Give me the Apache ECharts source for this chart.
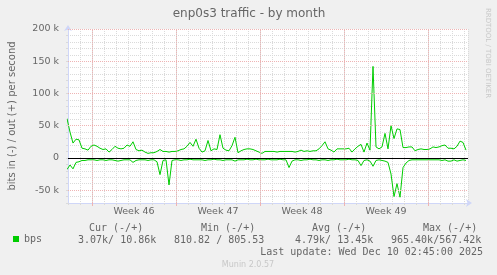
<!DOCTYPE html>
<html><head><meta charset="utf-8">
<script src="https://cdn.jsdelivr.net/npm/echarts@6/dist/echarts.min.js"></script>
<style>html,body{margin:0;padding:0;background:#f0f0f0}#c{width:497px;height:275px}</style>
</head><body><div id="c"></div>
<script>
// time of first sample (hours relative to start of Week 46) and spacing
const startHour = -50;
const stepHours = 6;
// out (+) traffic, kbit/s
const outK = [61,40,23,29,28,15,14,12,18,20,18,15,13,14,9,13,18,15,14,15,
  20,18,25,13,11,12,9,7,8,8,10,13,10,10,9,10,10,11,13,14,
  18,24,18,29,15,9,11,27,11,14,13,36,15,12,11,19,32,8,11,13,
  14,14,13,11,9,7,10,10,10,10,9,10,10,10,10,10,9,10,12,10,
  11,10,11,11,14,19,25,14,12,9,14,14,14,14,15,9,14,18,21,9,
  23,12,142,17,14,17,38,14,50,30,45,44,16,16,17,17,11,13,14,13,
  13,14,17,16,17,19,20,15,15,14,18,26,24,12];
// in (-) traffic, kbit/s
const inK = [-18,-11,-17,-7,-6,-4,-4,-3,-3,-3,-4,-3,-3,-4,-3,-3,-4,-5,-4,-3,
  -3,-3,-7,-4,-3,-3,-3,-4,-3,-3,-6,-26,-4,-3,-42,-4,-3,-3,-4,-3,
  -3,-2,-3,-3,-3,-3,-4,-3,-3,-2,-3,-3,-4,-3,-3,-3,-5,-3,-3,-3,
  -2,-3,-3,-2,-3,-3,-3,-2,-3,-3,-3,-2,-3,-3,-15,-5,-3,-3,-4,-3,
  -3,-2,-3,-3,-4,-3,-3,-4,-3,-3,-2,-3,-3,-3,-2,-3,-3,-4,-12,-4,
  -3,-5,-13,-4,-3,-4,-5,-7,-25,-60,-40,-61,-15,-8,-4,-3,-3,-3,-3,-3,
  -3,-3,-3,-3,-3,-4,-3,-5,-5,-3,-5,-4,-3,-4];
const weekStarts = [0,168,336,504,672];
const weekCenters = [84,252,420,588];
const weekLabels = ['Week 46','Week 47','Week 48','Week 49'];
const yTickValues = [-50000,0,50000,100000,150000,200000];
const yTickLabels = ['-50 k','0','50 k','100 k','150 k','200 k'];
const legendHeaders = ['Cur (-/+)','Min (-/+)','Avg (-/+)','Max (-/+)'];
const legendValues = ['3.07k/ 10.86k','810.82 / 805.53','4.79k/ 13.45k','965.40k/567.42k'];
const titleText = 'enp0s3 traffic - by month';
const yName = 'bits in (-) / out (+) per second';
const lastUpdate = 'Last update: Wed Dec 10 02:45:00 2025';
const footer = 'Munin 2.0.57';
const watermark = 'RRDTOOL / TOBI OETIKER';

const outData = outK.map((v,i)=>[startHour+i*stepHours, v*1000]);
const inData = inK.map((v,i)=>[startHour+i*stepHours, v*1000]);

const FONT = '"DejaVu Sans", sans-serif';
const MONO = '"DejaVu Sans Mono", monospace';
const TXT = '#666666';
const AXIS = '#CFD6F8';
const MGRID = '#eeb4b4';
const GRID = '#dadada';

const chart = echarts.init(document.getElementById('c'), null, {renderer:'canvas'});
const headerX = [89, 201, 312, 423];
const valueX = [78, 174, 295, 391];
const graphics = [];
function txt(t, x, y, font, fill, align, rot){
  graphics.push({type:'text', x:x, y:y, rotation: rot||0, silent:true,
    style:{text:t, font:font, fill:fill, textAlign:align||'left', textVerticalAlign:'middle', align:align||'left', verticalAlign:'middle'}});
}
txt(titleText, 249, 14, '12px '+FONT, TXT, 'center');
txt(yName, 12, 116, '10px '+FONT, TXT, 'center', Math.PI/2);
txt(watermark, 488, 53, '7px '+FONT, '#c8c8c8', 'center', -Math.PI/2);
legendHeaders.forEach((t,i)=>txt(t, headerX[i], 228, '10px '+MONO, TXT));
legendValues.forEach((t,i)=>txt(t, valueX[i], 240, '10px '+MONO, TXT));
txt(lastUpdate, 483, 252, '10px '+MONO, TXT, 'right');
txt(footer, 248, 265, '8px '+FONT, '#c8c8c8', 'center');

const dotted = (c)=>({color:c, type:[1,1], width:1});

chart.setOption({
  animation:false,
  backgroundColor:'#f0f0f0',
  grid:{left:68, top:29, width:400, height:174, show:true, backgroundColor:'#ffffff', borderWidth:0, containLabel:false},
  legend:{data:['bps'], left:13, top:234, padding:0, itemWidth:6, itemHeight:6, icon:'rect',
    textStyle:{fontFamily:MONO, fontSize:10, color:TXT}},
  xAxis:[{
    type:'value', min:-48, max:752, interval:24,
    axisLine:{onZero:false, lineStyle:{color:AXIS}, symbol:['none','arrow'], symbolSize:[6,6], symbolOffset:[0,4]},
    axisTick:{show:true, length:2, lineStyle:{color:GRID}},
    axisLabel:{show:false},
    splitLine:{show:true, lineStyle:dotted(GRID)}
  },{
    type:'value', min:-48, max:752, position:'bottom',
    axisLine:{show:false, onZero:false},
    axisTick:{show:true, customValues:weekStarts, length:3, lineStyle:{color:MGRID}},
    axisLabel:{show:true, customValues:weekCenters, margin:4, fontFamily:FONT, fontSize:9.5, color:TXT,
      formatter:(v)=>{const k=weekCenters.indexOf(v); return k>=0?weekLabels[k]:'';}},
    splitLine:{show:false}
  }],
  yAxis:[{
    type:'value', min:-70000, max:200000, interval:10000,
    axisLine:{show:true, onZero:false, lineStyle:{color:AXIS}, symbol:['none','arrow'], symbolSize:[6,6], symbolOffset:[0,4]},
    axisTick:{show:true, length:2, lineStyle:{color:GRID}},
    axisLabel:{margin:9, fontFamily:FONT, fontSize:9.5, color:TXT,
      formatter:(v)=>{const k=yTickValues.indexOf(v); return k>=0?yTickLabels[k]:'';}},
    splitLine:{show:true, lineStyle:dotted(GRID)}
  }],
  graphic:graphics,
  series:[{
    type:'line', name:'gridMajor', data:[], z:1, silent:true,
    markLine:{silent:true, symbol:['none','none'], label:{show:false}, animation:false,
      lineStyle:dotted(MGRID),
      data:[...yTickValues.filter(v=>v!==0).map(v=>({yAxis:v})), ...weekStarts.map(h=>({xAxis:h}))]}
  },{
    type:'line', name:'bps', data:outData, showSymbol:false, symbol:'none', z:3,
    color:'#00cc00', lineStyle:{color:'#00cc00', width:1}, itemStyle:{color:'#00cc00'}
  },{
    type:'line', name:'in', data:inData, showSymbol:false, symbol:'none', z:4,
    color:'#00cc00', lineStyle:{color:'#00cc00', width:1},
    markLine:{silent:true, symbol:['none','none'], label:{show:false}, animation:false,
      lineStyle:{color:'#000000', type:'solid', width:1}, data:[{yAxis:0}]}
  }]
});
</script></body></html>
